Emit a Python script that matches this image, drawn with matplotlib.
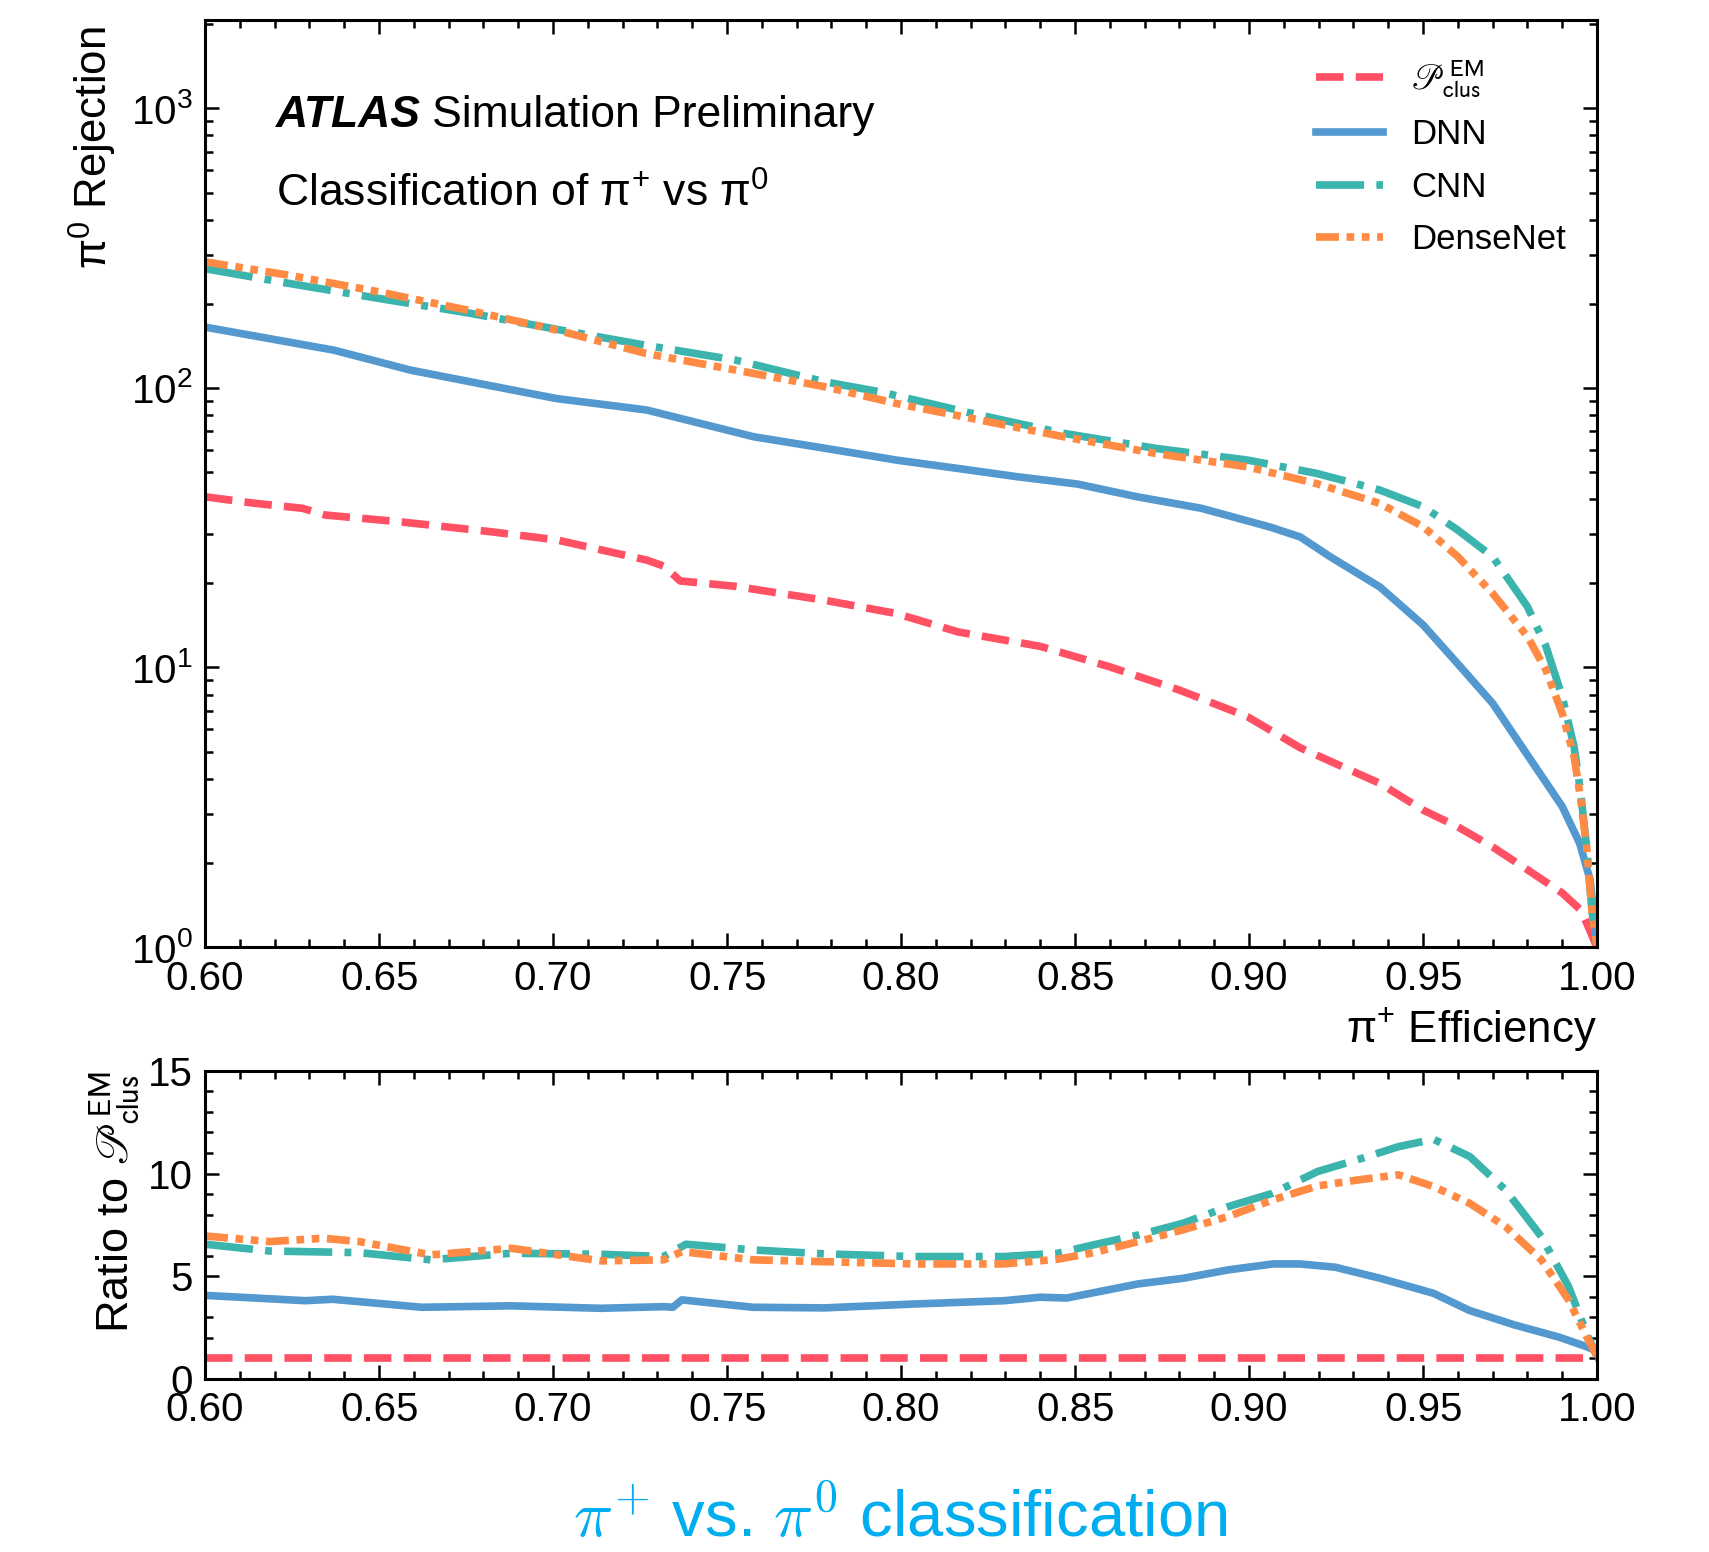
"""
pi+ vs pi0 rejection curves with ratio panel.
"""

import matplotlib
matplotlib.use("Agg")
import matplotlib.pyplot as plt
from matplotlib import ticker

plt.rcParams["font.family"] = ["Liberation Sans", "DejaVu Sans"]
plt.rcParams["mathtext.fontset"] = "custom"
plt.rcParams["mathtext.rm"] = "Liberation Sans"
plt.rcParams["mathtext.it"] = "Liberation Sans:italic"
plt.rcParams["mathtext.bf"] = "Liberation Sans:bold"
plt.rcParams["mathtext.sf"] = "Liberation Sans"

# --- rejection curves (top panel) ---
eff_pclus = [0.600, 0.614, 0.628, 0.6345, 0.656, 0.682, 0.701, 0.727, 0.732, 0.7365,
             0.7525, 0.778, 0.7986, 0.8164, 0.840, 0.860, 0.880, 0.8995, 0.9147,
             0.9338, 0.9376, 0.950, 0.960, 0.970, 0.980, 0.990, 0.9952, 0.997,
             0.9995, 1.0]
rej_pclus = [40.8, 38.7, 37.1, 35.1, 33.2, 30.6, 28.6, 24.2, 23.0, 20.4,
             19.5, 17.4, 15.6, 13.4, 11.9, 10.05, 8.3, 6.67, 5.16,
             4.04, 3.85, 3.09, 2.69, 2.28, 1.89, 1.56, 1.36, 1.22,
             1.03, 1.0]

eff_dnn = [0.600, 0.637, 0.659, 0.686, 0.701, 0.720, 0.727, 0.7576, 0.7782, 0.7986,
           0.8164, 0.8335, 0.8507, 0.8678, 0.8863, 0.906, 0.9147, 0.9233, 0.9376,
           0.950, 0.960, 0.970, 0.980, 0.990, 0.995, 0.998, 1.0]
rej_dnn = [165, 136.5, 115.8, 99.6, 91.6, 85.5, 83.3, 66.9, 60.8, 55.2,
           51.5, 48.1, 45.3, 40.8, 37.1, 31.8, 29.3, 24.9, 19.4,
           14.2, 10.3, 7.44, 4.86, 3.18, 2.35, 1.74, 1.0]

eff_cnn = [0.600, 0.6241, 0.6499, 0.6755, 0.7011, 0.7267, 0.7525, 0.7782, 0.794,
           0.8203, 0.8467, 0.8731, 0.8995, 0.9193, 0.9376, 0.950, 0.960, 0.970,
           0.980, 0.9853, 0.990, 0.9934, 0.9952, 0.997, 0.9986, 1.0]
rej_cnn = [267, 236.5, 209, 185.6, 162, 142, 125.7, 105.1, 96.8,
           81.1, 68.8, 60.8, 55.2, 49.5, 43.1, 37.6, 31.0, 24.9,
           16.5, 11.9, 7.86, 5.2, 3.64, 2.28, 1.32, 1.0]

eff_dense = [0.600, 0.6241, 0.6499, 0.6755, 0.7011, 0.7267, 0.7525, 0.7782, 0.7986,
             0.8203, 0.8467, 0.8731, 0.8995, 0.9193, 0.9376, 0.950, 0.960, 0.970,
             0.980, 0.9853, 0.990, 0.9934, 0.9952, 0.997, 0.9986, 1.0]
rej_dense = [282.5, 253, 220.6, 189.7, 161, 132.8, 115.8, 100.9, 88,
             77.8, 66.9, 58.3, 52.2, 45.5, 38.6, 31.9, 24.9, 18.4,
             12.9, 9.79, 6.85, 4.8, 3.45, 2.28, 1.32, 1.0]

# --- ratio to P_clus^EM (bottom panel) ---
ratio_x_pclus = [0.600, 1.0]
ratio_pclus = [1.0, 1.0]

ratio_x_dnn = [0.600, 0.6288, 0.6366, 0.6623, 0.688, 0.7138, 0.7318, 0.7344, 0.737,
               0.7575, 0.778, 0.8039, 0.8296, 0.840, 0.8476, 0.8682, 0.881, 0.894,
               0.9068, 0.9146, 0.9248, 0.9377, 0.953, 0.9634, 0.9763, 0.9892, 0.997, 1.0]
ratio_dnn = [4.07, 3.81, 3.88, 3.49, 3.56, 3.44, 3.52, 3.49, 3.85,
             3.49, 3.46, 3.65, 3.81, 3.98, 3.94, 4.63, 4.90, 5.31,
             5.60, 5.60, 5.44, 4.90, 4.17, 3.33, 2.63, 2.03, 1.57, 1.35]

ratio_x_cnn = [0.600, 0.6185, 0.6443, 0.6649, 0.688, 0.7138, 0.7318, 0.7382, 0.7575,
               0.778, 0.8039, 0.8296, 0.845, 0.8553, 0.8682, 0.881, 0.894, 0.9068,
               0.9197, 0.9326, 0.9429, 0.953, 0.9634, 0.9737, 0.984, 0.9918, 0.997, 1.0]
ratio_cnn = [6.56, 6.23, 6.15, 5.80, 6.12, 6.07, 5.96, 6.56, 6.28,
             6.09, 5.96, 5.96, 6.12, 6.53, 7.01, 7.58, 8.39, 9.04,
             10.10, 10.75, 11.31, 11.67, 10.83, 9.20, 6.93, 4.50, 2.22, 1.1]

ratio_x_dense = [0.600, 0.6185, 0.634, 0.6443, 0.6649, 0.688, 0.7138, 0.7318, 0.737,
                 0.7575, 0.778, 0.8039, 0.8296, 0.845, 0.8553, 0.8682, 0.881, 0.894,
                 0.9068, 0.9197, 0.9326, 0.9429, 0.953, 0.9634, 0.9737, 0.984, 0.9918,
                 0.997, 1.0]
ratio_dense = [6.96, 6.69, 6.85, 6.69, 6.04, 6.36, 5.75, 5.80, 6.20,
               5.80, 5.71, 5.60, 5.60, 5.83, 6.15, 6.69, 7.26, 7.91,
               8.72, 9.40, 9.72, 9.94, 9.37, 8.55, 7.42, 5.80, 3.85,
               2.06, 1.1]

x_ticks = [0.60, 0.65, 0.70, 0.75, 0.80, 0.85, 0.90, 0.95, 1.00]

PCLUS_LABEL = r"$\mathscr{P}^{\mathrm{EM}}_{\mathrm{clus}}$"

styles = {
    "pclus": dict(color="#ff5064", dashes=(3.6, 1.6)),
    "dnn": dict(color="#5399cf", linestyle="-"),
    "cnn": dict(color="#3cb4ae", dashes=(6.3, 1.6, 0.9, 1.6)),
    "dense": dict(color="#fe8a43", dashes=(3.0, 1.0, 1.0, 1.0, 1.0, 1.0)),
}
LW = 5.5
TICK_SIZE = 29
LABEL_SIZE = 31.5


def style_axes(ax):
    ax.tick_params(which="both", direction="in", top=True, right=True,
                   labelsize=TICK_SIZE, width=1.8)
    ax.tick_params(which="major", length=10, pad=9)
    ax.tick_params(which="minor", length=5.5)
    for sp in ax.spines.values():
        sp.set_linewidth(2.2)
    ax.set_xlim(0.6, 1.0)
    ax.set_xticks(x_ticks)
    ax.xaxis.set_minor_locator(ticker.MultipleLocator(0.01))
    ax.xaxis.set_major_formatter(ticker.FormatStrFormatter("%.2f"))


fig = plt.figure(figsize=(17.09, 15.52), dpi=100)
ax = fig.add_axes([0.120, 0.3898, 0.8145, 0.5973])
rax = fig.add_axes([0.120, 0.1115, 0.8145, 0.1985])

# top panel
ax.plot(eff_pclus, rej_pclus, lw=LW, label=PCLUS_LABEL, **styles["pclus"])
ax.plot(eff_dnn, rej_dnn, lw=LW, label="DNN", **styles["dnn"])
ax.plot(eff_cnn, rej_cnn, lw=LW, label="CNN", **styles["cnn"])
ax.plot(eff_dense, rej_dense, lw=LW, label="DenseNet", **styles["dense"])
ax.set_yscale("log")
ax.set_ylim(1, 2070)
style_axes(ax)
ax.yaxis.set_major_locator(ticker.LogLocator(base=10, numticks=10))
ax.yaxis.set_minor_locator(ticker.LogLocator(base=10, subs=range(2, 10), numticks=20))
ax.yaxis.set_minor_formatter(ticker.NullFormatter())

ax.set_ylabel(r"$\mathrm{\pi}^{0}$ Rejection", fontsize=LABEL_SIZE, loc="top")
ax.yaxis.set_label_coords(-0.062, 0.993)
ax.set_xlabel(r"$\mathrm{\pi}^{+}$ Efficiency", fontsize=LABEL_SIZE, loc="right")
ax.xaxis.set_label_coords(1.0, -0.062)

atlas = ax.text(0.051, 0.8846, "ATLAS", transform=ax.transAxes, fontsize=32,
                fontweight="bold", fontstyle="italic", va="baseline")
ax.annotate("Simulation Preliminary", xy=(1, 0), xycoords=atlas,
            xytext=(8, 0), textcoords="offset points", fontsize=32, va="bottom")
ax.text(0.051, 0.7986, r"Classification of $\mathrm{\pi}^{+}$ vs $\mathrm{\pi}^{0}$",
        transform=ax.transAxes, fontsize=32, va="baseline")

leg = ax.legend(loc="upper right", bbox_to_anchor=(0.995, 0.985), frameon=False,
                fontsize=25, handlelength=1.95, handletextpad=0.8, labelspacing=0.56,
                borderpad=0.2)
leg.get_texts()[0].set_math_fontfamily("stixsans")

# ratio panel
rax.plot(ratio_x_pclus, ratio_pclus, lw=LW, **styles["pclus"])
rax.plot(ratio_x_dnn, ratio_dnn, lw=LW, **styles["dnn"])
rax.plot(ratio_x_cnn, ratio_cnn, lw=LW, **styles["cnn"])
rax.plot(ratio_x_dense, ratio_dense, lw=LW, **styles["dense"])
rax.set_ylim(0, 15)
style_axes(rax)
rax.yaxis.set_major_locator(ticker.MultipleLocator(5))
rax.yaxis.set_minor_locator(ticker.MultipleLocator(1))
rylab = rax.set_ylabel("Ratio to " + PCLUS_LABEL, fontsize=LABEL_SIZE + 1, loc="top")
rylab.set_math_fontfamily("stixsans")
rax.yaxis.set_label_coords(-0.045, 1.0)

fig.text(0.527, 0.0097,
         r"$\pi^{\mathrm{+}}$ vs. $\pi^{\mathrm{0}}$ classification",
         color="#00aeef", fontsize=47, ha="center", va="baseline",
         math_fontfamily="cm")

fig.savefig("out.png", dpi=100)
